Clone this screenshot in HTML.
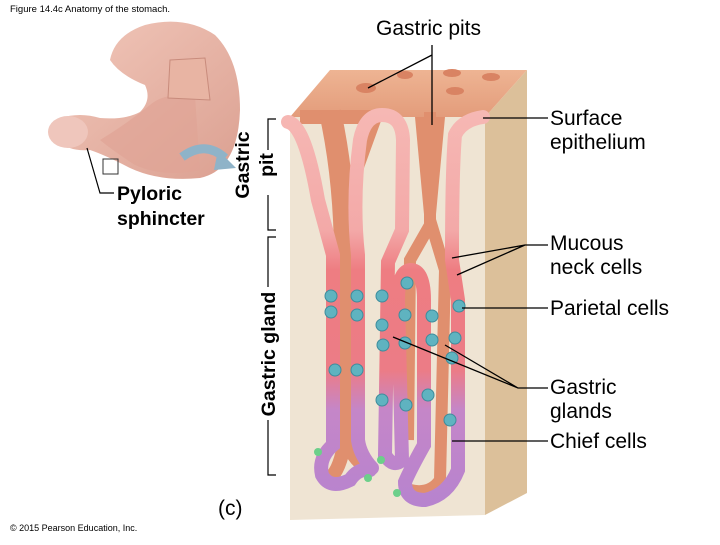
<!DOCTYPE html>
<html><head><meta charset="utf-8"><style>
body{margin:0;width:720px;height:540px;background:#fff;overflow:hidden;font-family:"Liberation Sans",sans-serif}
</style></head><body>
<svg width="720" height="540" viewBox="0 0 720 540" xmlns="http://www.w3.org/2000/svg" font-family="Liberation Sans, sans-serif">
<defs>
<linearGradient id="ep" gradientUnits="userSpaceOnUse" x1="0" y1="110" x2="0" y2="510">
<stop offset="0" stop-color="#f6b8b4"/><stop offset="0.3" stop-color="#f3a9a8"/><stop offset="0.4" stop-color="#ee7d82"/><stop offset="0.65" stop-color="#ec7c86"/><stop offset="0.75" stop-color="#c586c8"/><stop offset="1" stop-color="#b683cf"/>
</linearGradient>
<linearGradient id="top" x1="0" y1="0" x2="0" y2="1"><stop offset="0" stop-color="#eeb493"/><stop offset="1" stop-color="#e39c7b"/></linearGradient>
<linearGradient id="st" x1="0" y1="0" x2="1" y2="1"><stop offset="0" stop-color="#f2c8bb"/><stop offset="1" stop-color="#dba091"/></linearGradient>
</defs>
<text x="10" y="12" font-size="9.5">Figure 14.4c Anatomy of the stomach.</text>
<text x="10" y="531" font-size="9">© 2015 Pearson Education, Inc.</text>

<!-- stomach -->
<path d="M110 60 Q115 35 145 25 Q185 15 215 35 Q240 60 240 110 Q238 170 200 178 Q160 182 130 168 Q105 155 90 150 Q70 152 55 140 Q48 125 60 118 Q80 112 100 118 Q125 120 140 112 Q152 100 145 85 Q120 75 110 60Z" fill="url(#st)"/>
<path d="M150 105 Q165 92 195 96 L200 170 Q165 178 135 165 Q112 150 100 140 Q125 125 150 105Z" fill="#dfa495" opacity="0.7"/>
<path d="M170 60 L205 58 L210 100 L168 98Z" fill="#e8b4a3" stroke="#c88b7c" stroke-width="1"/>
<ellipse cx="68" cy="132" rx="20" ry="16" fill="#efc6bc"/>
<path d="M182 157 Q205 140 225 158" fill="none" stroke="#8fb3c8" stroke-width="9"/>
<path d="M218 150 L236 168 L214 170Z" fill="#8fb3c8"/>
<rect x="103" y="159" width="15" height="15" fill="none" stroke="#333" stroke-width="1"/>
<path d="M87 148 L100 193 L114 193" fill="none" stroke="#000" stroke-width="1.2"/>
<text x="117" y="200" font-size="19.5" font-weight="bold">Pyloric</text>
<text x="117" y="225" font-size="19.5" font-weight="bold">sphincter</text>

<!-- brackets & rotated labels -->
<text transform="translate(249,165) rotate(-90)" text-anchor="middle" font-size="19.5" font-weight="bold">Gastric</text>
<text transform="translate(273,165) rotate(-90)" text-anchor="middle" font-size="19.5" font-weight="bold">pit</text>
<path d="M276 119 L268 119 L268 150 M268 195 L268 230 L276 230" fill="none" stroke="#000" stroke-width="1.2"/>
<text transform="translate(275,354) rotate(-90)" text-anchor="middle" font-size="19.5" font-weight="bold">Gastric gland</text>
<path d="M276 237 L268 237 L268 287 M268 420 L268 475 L276 475" fill="none" stroke="#000" stroke-width="1.2"/>

<!-- block -->
<polygon points="290,117 485,117 485,515 290,520" fill="#efe4d3"/>
<polygon points="485,117 527,70 527,493 485,515" fill="#dcc09a"/>
<polygon points="290,117 330,70 527,70 485,117" fill="url(#top)"/>
<ellipse cx="366" cy="88" rx="10" ry="5" fill="#d98363"/>
<ellipse cx="405" cy="75" rx="8" ry="4" fill="#d98363"/>
<ellipse cx="452" cy="73" rx="9" ry="4" fill="#d98363"/>
<ellipse cx="491" cy="77" rx="9" ry="4" fill="#d98363"/>
<ellipse cx="455" cy="91" rx="9" ry="4" fill="#d98363"/>
<!-- lumens -->
<path d="M300 117 L375 117 L345 200 L345 440 Q340 470 330 478 M345 440 Q355 462 370 470" fill="none" stroke="#e08f6e" stroke-width="14"/>
<path d="M330 112 Q345 180 345 260 L345 440" fill="none" stroke="#e08f6e" stroke-width="22"/>
<path d="M430 112 L430 225 L410 260 L408 440 M430 220 L445 270 L440 480 Q430 495 410 490" fill="none" stroke="#e08f6e" stroke-width="12"/>
<path d="M415 117 L445 117 L435 225 L425 225Z" fill="#e08f6e"/>
<!-- epithelium -->
<g fill="none" stroke="url(#ep)" stroke-width="14" stroke-linecap="round">
<path d="M288 122 Q305 125 318 200 L333 255 L333 445 Q318 458 322 475 Q330 490 350 480 Q358 468 370 470"/>
<path d="M372 468 Q360 455 358 440 L358 255 Q352 200 360 140 Q365 115 382 115 Q402 115 403 140 L402 230 L388 262 L385 455 Q393 468 402 460 L398 300 Q398 272 410 270 Q424 270 424 300 L424 445 Q410 470 405 482 Q405 500 425 500 Q448 495 458 470 L458 300 L452 260 Q452 170 455 135 Q462 120 483 117"/>
</g>
<!-- parietal cells -->
<g fill="#5fb3c0" stroke="#3d8c9c" stroke-width="1">
<circle cx="331" cy="296" r="6"/><circle cx="331" cy="312" r="6"/><circle cx="335" cy="370" r="6"/>
<circle cx="357" cy="296" r="6"/><circle cx="357" cy="315" r="6"/><circle cx="357" cy="370" r="6"/>
<circle cx="382" cy="296" r="6"/><circle cx="382" cy="325" r="6"/><circle cx="383" cy="345" r="6"/><circle cx="382" cy="400" r="6"/>
<circle cx="407" cy="283" r="6"/><circle cx="405" cy="315" r="6"/><circle cx="405" cy="343" r="6"/><circle cx="406" cy="405" r="6"/>
<circle cx="432" cy="316" r="6"/><circle cx="432" cy="340" r="6"/><circle cx="428" cy="395" r="6"/>
<circle cx="459" cy="306" r="6"/><circle cx="455" cy="338" r="6"/><circle cx="452" cy="358" r="6"/><circle cx="450" cy="420" r="6"/>
</g>
<g fill="#6ccf8a"><circle cx="318" cy="452" r="4"/><circle cx="368" cy="478" r="4"/><circle cx="381" cy="460" r="4"/><circle cx="397" cy="493" r="4"/></g>

<!-- leader lines -->
<g stroke="#000" stroke-width="1.3" fill="none">
<path d="M368 88 L432 55 M432 45 L432 125"/>
<path d="M483 118 L515 118 L548 118"/>
<path d="M452 258 L525 245 L548 245 M457 275 L525 245"/>
<path d="M462 308 L548 308"/>
<path d="M393 337 L518 388 L548 388 M445 345 L518 388"/>
<path d="M452 441 L548 441"/>
</g>
<g font-size="21" fill="#000">
<text x="376" y="35">Gastric pits</text>
<text x="550" y="125">Surface</text><text x="550" y="149">epithelium</text>
<text x="550" y="250">Mucous</text><text x="550" y="274">neck cells</text>
<text x="550" y="315">Parietal cells</text>
<text x="550" y="394">Gastric</text><text x="550" y="418">glands</text>
<text x="550" y="448">Chief cells</text>
<text x="218" y="515">(c)</text>
</g>
</svg>
</body></html>
